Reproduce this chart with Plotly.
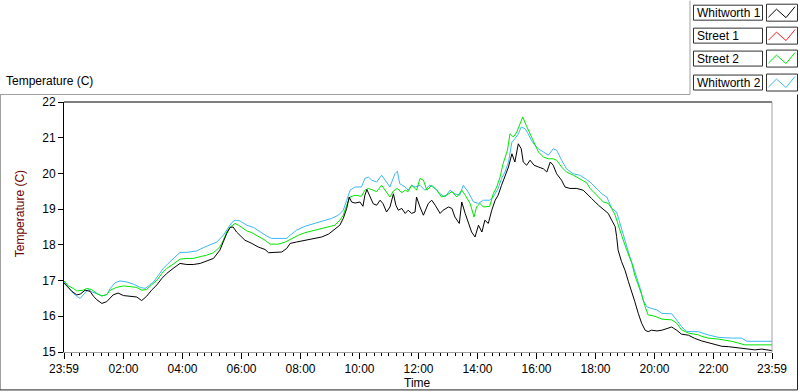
import plotly.graph_objects as go

# ---------------- data (minutes after 23:59 start, temperature in C) -------------
series_names = ["Whitworth 1", "Street 1", "Street 2", "Whitworth 2"]
series_colors = ["#000000", "#ff2020", "#00e600", "#3cb8f5"]

w1_t = [0, 16, 26, 33, 43, 53, 60, 67, 77, 87, 100, 110, 121, 134, 148, 158, 168, 178, 189, 199,
        209, 222, 236, 250, 263, 277, 290, 304, 317, 324, 331, 338, 344, 351, 358, 368, 382, 395,
        409, 416, 429, 443, 453, 460, 473, 490, 511, 524, 538, 551, 561, 568, 575, 580, 585, 592,
        602, 608, 612, 616, 622, 629, 636, 643, 649, 656, 663, 670, 675, 680, 687, 694, 700, 707,
        714, 717, 724, 731, 741, 748, 755, 765, 771, 782, 789, 795, 804, 809, 816, 822, 829, 836,
        843, 850, 856, 863, 870, 877, 883, 890, 897, 904, 911, 917, 924, 930, 934, 941, 948, 956,
        965, 975, 982, 989, 995, 1002, 1012, 1019, 1029, 1043, 1056, 1060, 1073, 1087, 1100, 1107,
        1114, 1121, 1124, 1127, 1134, 1141, 1148, 1155, 1161, 1168, 1175, 1182, 1188, 1195, 1206,
        1216, 1226, 1236, 1246, 1256, 1270, 1283, 1297, 1310, 1324, 1338, 1351, 1365, 1378, 1392,
        1405, 1419, 1432, 1440]
w1_v = [16.93, 16.70, 16.60, 16.62, 16.73, 16.70, 16.56, 16.46, 16.36, 16.41, 16.60, 16.65, 16.58,
        16.56, 16.54, 16.44, 16.56, 16.73, 16.88, 17.06, 17.20, 17.34, 17.48, 17.45, 17.45, 17.48,
        17.54, 17.62, 17.85, 18.08, 18.32, 18.49, 18.50, 18.36, 18.27, 18.13, 18.04, 17.94, 17.87,
        17.78, 17.79, 17.80, 17.90, 18.04, 18.08, 18.13, 18.18, 18.22, 18.30, 18.43, 18.55, 18.74,
        19.02, 19.34, 19.20, 19.17, 19.20, 19.08, 19.39, 19.55, 19.34, 19.15, 19.11, 19.25, 19.15,
        18.92, 19.06, 19.43, 19.11, 18.97, 19.02, 18.88, 18.97, 18.88, 18.92, 19.34, 19.06, 18.83,
        19.16, 19.25, 19.11, 18.88, 18.97, 19.06, 19.02, 18.78, 18.60, 19.20, 18.88, 18.64, 18.36,
        18.22, 18.55, 18.36, 18.69, 18.60, 18.97, 19.25, 19.39, 19.67, 19.95, 20.18, 20.55, 20.32,
        20.83, 20.69, 20.32, 20.23, 20.37, 20.23, 20.18, 20.13, 20.04, 20.32, 20.23, 19.99, 19.81,
        19.62, 19.58, 19.58, 19.53, 19.47, 19.30, 19.11, 18.97, 18.88, 18.69, 18.51, 18.23, 17.85,
        17.53, 17.29, 16.97, 16.69, 16.41, 16.08, 15.80, 15.61, 15.57, 15.61, 15.59, 15.61, 15.66,
        15.70, 15.61, 15.50, 15.47, 15.38, 15.31, 15.26, 15.22, 15.16, 15.15, 15.13, 15.11, 15.08,
        15.06, 15.08, 15.06, 15.04]

s1_t = []
s1_v = []

s2_t = [0, 9, 19, 26, 39, 46, 56, 67, 77, 87, 94, 107, 121, 134, 148, 158, 168, 178, 189, 199, 209,
        222, 236, 250, 263, 277, 290, 304, 317, 324, 331, 338, 348, 355, 361, 372, 382, 395, 409,
        419, 436, 450, 463, 477, 490, 511, 524, 538, 551, 561, 568, 575, 582, 592, 605, 612, 619,
        629, 636, 646, 653, 663, 670, 678, 687, 694, 700, 707, 714, 717, 724, 731, 738, 748, 758,
        768, 778, 789, 799, 809, 816, 826, 834, 839, 846, 853, 866, 873, 880, 887, 893, 902, 907,
        914, 921, 927, 933, 940, 948, 958, 965, 975, 985, 995, 1002, 1012, 1022, 1036, 1049, 1063,
        1070, 1083, 1097, 1107, 1114, 1121, 1127, 1134, 1141, 1148, 1155, 1161, 1168, 1175, 1182,
        1188, 1202, 1216, 1236, 1246, 1256, 1270, 1290, 1297, 1310, 1331, 1358, 1371, 1385, 1440]
s2_v = [16.99, 16.85, 16.78, 16.71, 16.73, 16.78, 16.75, 16.64, 16.57, 16.61, 16.73, 16.81, 16.85,
        16.84, 16.81, 16.73, 16.75, 16.88, 17.01, 17.20, 17.34, 17.46, 17.60, 17.62, 17.62, 17.67,
        17.71, 17.78, 17.94, 18.13, 18.36, 18.50, 18.60, 18.55, 18.49, 18.39, 18.34, 18.25, 18.13,
        18.02, 18.02, 18.08, 18.18, 18.27, 18.34, 18.41, 18.46, 18.49, 18.55, 18.69, 18.83, 19.11,
        19.34, 19.39, 19.36, 19.53, 19.58, 19.53, 19.49, 19.67, 19.53, 19.34, 19.51, 19.58, 19.46,
        19.53, 19.49, 19.67, 19.58, 19.53, 19.86, 19.81, 19.53, 19.67, 19.53, 19.34, 19.39, 19.49,
        19.34, 19.53, 19.39, 19.16, 18.78, 19.06, 19.16, 19.06, 19.08, 19.43, 19.62, 19.90, 20.27,
        20.65, 21.11, 21.02, 21.16, 21.39, 21.58, 21.35, 21.11, 20.83, 20.60, 20.46, 20.41, 20.41,
        20.37, 20.18, 20.04, 19.95, 19.86, 19.74, 19.58, 19.39, 19.20, 19.16, 19.02, 18.83, 18.55,
        18.27, 17.99, 17.71, 17.48, 17.15, 16.88, 16.60, 16.27, 16.04, 16.00, 15.92, 15.90, 15.81,
        15.62, 15.53, 15.48, 15.44, 15.39, 15.36, 15.30, 15.25, 15.20, 15.20]

w2_t = [0, 9, 19, 29, 33, 39, 49, 56, 67, 77, 87, 94, 104, 114, 128, 141, 155, 165, 171, 182, 192,
        202, 212, 226, 236, 250, 270, 283, 297, 311, 324, 331, 341, 348, 358, 361, 372, 385, 399,
        412, 422, 453, 460, 473, 490, 511, 524, 544, 558, 568, 575, 582, 592, 605, 612, 619, 626,
        636, 646, 653, 663, 673, 678, 683, 694, 700, 707, 714, 724, 734, 744, 755, 765, 775, 785,
        795, 805, 812, 822, 833, 843, 853, 866, 873, 883, 890, 897, 904, 911, 917, 924, 930, 938,
        944, 951, 958, 965, 975, 985, 995, 1002, 1012, 1022, 1036, 1049, 1063, 1070, 1080, 1094,
        1104, 1114, 1124, 1131, 1138, 1144, 1151, 1158, 1165, 1172, 1178, 1185, 1195, 1206, 1216,
        1236, 1246, 1256, 1267, 1290, 1310, 1331, 1358, 1378, 1389, 1440]
w2_v = [16.97, 16.81, 16.64, 16.53, 16.50, 16.60, 16.75, 16.69, 16.62, 16.57, 16.60, 16.78, 16.94,
        16.99, 16.96, 16.90, 16.81, 16.78, 16.84, 16.96, 17.15, 17.34, 17.48, 17.67, 17.79, 17.79,
        17.83, 17.92, 17.99, 18.08, 18.27, 18.43, 18.62, 18.69, 18.67, 18.64, 18.55, 18.49, 18.36,
        18.25, 18.18, 18.18, 18.27, 18.41, 18.52, 18.60, 18.67, 18.74, 18.83, 18.97, 19.25, 19.53,
        19.62, 19.62, 19.86, 19.90, 19.81, 19.76, 19.95, 19.81, 19.62, 19.99, 20.06, 19.71, 19.62,
        19.53, 19.67, 19.62, 19.67, 19.53, 19.67, 19.58, 19.43, 19.34, 19.53, 19.43, 19.39, 19.67,
        19.48, 19.20, 19.16, 19.25, 19.25, 19.34, 19.58, 19.86, 20.04, 20.32, 20.88, 20.97, 21.11,
        21.30, 21.25, 21.11, 20.92, 20.78, 20.69, 20.60, 20.51, 20.69, 20.65, 20.37, 20.13, 19.99,
        19.95, 19.83, 19.76, 19.62, 19.43, 19.34, 19.02, 18.92, 18.60, 18.27, 17.94, 17.66, 17.38,
        17.10, 16.78, 16.45, 16.27, 16.22, 16.18, 16.08, 16.07, 15.90, 15.71, 15.57, 15.57, 15.48,
        15.41, 15.39, 15.39, 15.30, 15.30]

tick_vals = [0, 121, 241, 361, 481, 601, 721, 841, 961, 1081, 1201, 1321, 1440]
tick_text = ["23:59", "02:00", "04:00", "06:00", "08:00", "10:00", "12:00", "14:00",
             "16:00", "18:00", "20:00", "22:00", "23:59"]

# ---------------- figure -------------
W, H = 800, 392
L, R, T, B = 64, 772, 101.5, 352  # plot area in pixels
FONT = "Liberation Sans"


def px(x):
    return (x - L) / (R - L)


def py(y):
    return (B - y) / (B - T)


fig = go.Figure()
order = [(w2_t, w2_v, 3), (s1_t, s1_v, 1), (s2_t, s2_v, 2), (w1_t, w1_v, 0)]
for t, v, i in order:
    fig.add_trace(go.Scatter(x=t, y=v, mode="lines", name=series_names[i],
                             line=dict(color=series_colors[i], width=1),
                             showlegend=False))

shapes = []
annotations = []

# chart frame
frame_gray = "#a0a0a0"
shapes += [
    dict(type="line", xref="paper", yref="paper", x0=px(0.5), x1=px(0.5), y0=py(94), y1=py(390),
         line=dict(color=frame_gray, width=1)),
    dict(type="line", xref="paper", yref="paper", x0=px(0), x1=px(690), y0=py(94), y1=py(94),
         line=dict(color=frame_gray, width=1)),
    dict(type="line", xref="paper", yref="paper", x0=px(690), x1=px(690), y0=py(0), y1=py(94),
         line=dict(color=frame_gray, width=1)),
    dict(type="line", xref="paper", yref="paper", x0=px(0), x1=px(797.5), y0=py(390), y1=py(390),
         line=dict(color="#202020", width=1)),
    dict(type="line", xref="paper", yref="paper", x0=px(797.5), x1=px(797.5), y0=py(94), y1=py(390),
         line=dict(color="#202020", width=1)),
    # plot area top (black) and right (gray)
    dict(type="line", xref="paper", yref="paper", x0=0, x1=1, y0=1, y1=1,
         line=dict(color="#000000", width=1)),
    dict(type="line", xref="paper", yref="paper", x0=1, x1=1, y0=0, y1=1,
         line=dict(color=frame_gray, width=1)),
]

# custom legend
row_top = [4.5, 27.5, 50.5, 74.5]
for i, name in enumerate(series_names):
    y0 = row_top[i]
    y1 = y0 + 15
    shapes.append(dict(type="rect", xref="paper", yref="paper", x0=px(693.5), x1=px(762.5),
                       y0=py(y1), y1=py(y0), line=dict(color="#303030", width=1),
                       fillcolor="white"))
    shapes.append(dict(type="rect", xref="paper", yref="paper", x0=px(766.5), x1=px(797.5),
                       y0=py(y1 + 1), y1=py(y0 - 1), line=dict(color="#303030", width=1),
                       fillcolor="white"))
    pts = [(768.5, y0 + 12), (776.5, y0 + 4), (786, y0 + 12.5), (795, y0 + 1.5)]
    path = "M " + " L ".join(f"{px(a):.5f},{py(b):.5f}" for a, b in pts)
    shapes.append(dict(type="path", xref="paper", yref="paper", path=path,
                       line=dict(color=series_colors[i], width=1)))
    annotations.append(dict(text=name, xref="paper", yref="paper", x=px(695),
                            y=py((y0 + y1) / 2), xanchor="left", yanchor="middle",
                            showarrow=False, font=dict(family=FONT, size=12, color="#000000")))

# labels
annotations += [
    dict(text="Temperature (C)", xref="paper", yref="paper", x=px(4), y=py(80),
         xanchor="left", yanchor="middle", showarrow=False,
         font=dict(family=FONT, size=12, color="#000000")),
    dict(text="Temperature (C)", xref="paper", yref="paper", x=px(20), y=py(214),
         xanchor="center", yanchor="middle", showarrow=False, textangle=-90,
         font=dict(family=FONT, size=12, color="#6e0000")),
    dict(text="Time", xref="paper", yref="paper", x=px(417), y=py(383),
         xanchor="center", yanchor="middle", showarrow=False,
         font=dict(family=FONT, size=12, color="#000000")),
]

fig.update_layout(
    width=W, height=H,
    margin=dict(l=L, r=W - R, t=T, b=H - B, pad=0),
    paper_bgcolor="white", plot_bgcolor="white",
    font=dict(family=FONT, size=12, color="#000000"),
    shapes=shapes, annotations=annotations,
    xaxis=dict(range=[0, 1440], tickmode="array", tickvals=tick_vals, ticktext=tick_text,
               showgrid=False, zeroline=False, showline=True, linecolor=frame_gray,
               ticks="outside", ticklen=6, tickcolor="#000000",
               minor=dict(tickmode="linear", tick0=1, dtick=15, ticks="outside",
                          ticklen=3, tickcolor="#000000", showgrid=False),
               tickfont=dict(family=FONT, size=12, color="#000000")),
    yaxis=dict(range=[15, 22], dtick=1, tick0=15, showgrid=False, zeroline=False,
               showline=True, linecolor="#000000", ticks="outside", ticklen=5,
               tickcolor="#000000",
               tickfont=dict(family=FONT, size=12, color="#000000")),
)

fig.write_html("out.html",
               config={"displayModeBar": False, "staticPlot": True},
               post_script="document.body.style.margin='0';document.body.style.padding='0';")
